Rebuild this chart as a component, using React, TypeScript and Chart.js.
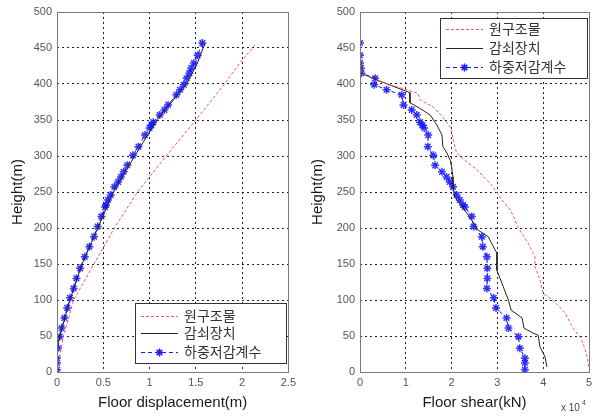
import React, { useEffect, useRef } from "react";
import { Chart, registerables } from "chart.js";

Chart.register(...registerables);

const legendLabels = ["원구조물", "감쇠장치", "하중저감계수"];

// Left: floor displacement (m) vs height (m)
const dispRedH = [0, 50, 100, 150, 200, 250, 300, 350, 400, 430, 457];
const dispRedV = [0, 0.07, 0.18, 0.4, 0.62, 0.87, 1.18, 1.5, 1.81, 1.98, 2.16];
const dispBlackH = [0, 20, 35, 50, 100, 150, 200, 250, 300, 350, 400, 430, 457];
const dispBlackV = [0, 0, 0.005, 0.03, 0.14, 0.27, 0.44, 0.61, 0.84, 1.08, 1.4, 1.52, 1.6];
const floorH = [457, 440, 429, 422, 415, 408, 399, 392, 385, 371, 364, 357, 347, 343, 339, 329, 313, 301, 287, 278, 271, 264, 257, 246, 239, 232, 229, 216, 202, 188, 174, 160, 144, 130, 116, 103, 89, 75, 61, 49, 33, 19, 12.5, 3];
const dispBlueV = [1.57, 1.52, 1.48, 1.45, 1.43, 1.4, 1.37, 1.33, 1.29, 1.2, 1.16, 1.11, 1.04, 1.02, 1.0, 0.95, 0.88, 0.82, 0.76, 0.72, 0.69, 0.66, 0.62, 0.58, 0.55, 0.53, 0.52, 0.48, 0.44, 0.4, 0.35, 0.3, 0.25, 0.21, 0.18, 0.14, 0.11, 0.08, 0.05, 0.03, 0.01, 0, 0, 0];

// Right: floor shear (kN) vs height (m)
const shearRedH = [455, 415, 405, 387, 378, 368, 354, 340, 326, 313, 304, 294, 281, 260, 239, 225, 216, 200, 179, 160, 146, 128, 109, 100, 82, 61, 49, 40, 21, 7];
const shearRedV = [0, 300, 3500, 12700, 13100, 16000, 18100, 19700, 20300, 20700, 21100, 22900, 25500, 28700, 31000, 32800, 33500, 34600, 36700, 38200, 38200, 39300, 40000, 42100, 44800, 46500, 48000, 48700, 49600, 50000];
const shearBlackH = [455, 415, 405, 388, 374, 366, 357, 343, 329, 313, 304, 294, 285, 271, 257, 243, 221, 207, 197, 188, 179, 165, 141, 123, 100, 86, 75, 61, 54, 51, 35, 21, 7];
const shearBlackV = [0, 300, 3900, 10900, 10900, 13100, 15300, 16800, 17900, 18100, 19000, 19700, 20000, 20300, 20300, 20700, 23300, 24800, 25800, 28000, 28700, 29900, 29900, 31000, 32400, 33000, 35400, 35800, 37800, 38900, 39300, 40400, 40800];
const shearBlueV = [0, 0, 0, 200, 300, 3300, 3100, 5800, 9100, 9500, 11300, 12400, 13100, 13600, 14000, 14900, 14800, 16000, 16400, 17900, 18900, 19600, 20300, 21100, 21800, 22500, 22900, 24400, 24800, 26600, 26800, 27700, 27800, 27800, 27700, 29200, 29700, 32000, 32400, 34600, 34900, 36000, 36000, 36000];

const dispTicks = [0, 0.5, 1, 1.5, 2, 2.5];
const shearTicks = [0, 1, 2, 3, 4, 5];

const RED = "#f05a64";
const BLUE = "#1a1aff";
const BLACK = "#222222";

function pts(xs: number[], ys: number[]) {
  return xs.map((x, i) => ({ x, y: ys[i] }));
}

function drawStar(ctx: CanvasRenderingContext2D, x: number, y: number, r: number) {
  ctx.beginPath();
  for (let k = 0; k < 4; k++) {
    const a = (k * Math.PI) / 4;
    ctx.moveTo(x - r * Math.cos(a), y - r * Math.sin(a));
    ctx.lineTo(x + r * Math.cos(a), y + r * Math.sin(a));
  }
  ctx.stroke();
}

const framePlugin = {
  id: "frameLegend",
  afterDatasetsDraw(chart: any, _args: any, opts: any) {
    const ctx = chart.ctx as CanvasRenderingContext2D;
    const a = chart.chartArea;
    ctx.save();
    ctx.strokeStyle = "#7a7a7a";
    ctx.lineWidth = 1;
    ctx.setLineDash([]);
    ctx.strokeRect(Math.round(a.left) + 0.5, Math.round(a.top) + 0.5, Math.round(a.right - a.left), Math.round(a.bottom - a.top));
    const L = opts.box;
    if (L) {
      ctx.fillStyle = "#ffffff";
      ctx.fillRect(L.x, L.y, L.w, L.h);
      ctx.strokeStyle = "#333333";
      ctx.strokeRect(L.x + 0.5, L.y + 0.5, L.w, L.h);
      const ds = chart.data.datasets;
      ctx.font = '14px "Noto Sans CJK KR"';
      ctx.textBaseline = "middle";
      ctx.textAlign = "left";
      for (let i = 0; i < ds.length; i++) {
        const y = L.y + L.rows[i];
        ctx.strokeStyle = ds[i].borderColor;
        ctx.lineWidth = 1;
        ctx.setLineDash(ds[i].borderDash || []);
        ctx.beginPath();
        ctx.moveTo(L.x + 6, y + 0.5);
        ctx.lineTo(L.x + 43, y + 0.5);
        ctx.stroke();
        ctx.setLineDash([]);
        if (ds[i].pointRadius > 0) {
          ctx.strokeStyle = BLUE;
          ctx.lineWidth = 1.5;
          drawStar(ctx, L.x + 24.5, y + 0.5, 4);
        }
        ctx.fillStyle = "#333333";
        ctx.fillText(ds[i].label, L.x + 49, y);
      }
    }
    if (opts.exponent) {
      ctx.fillStyle = "#444444";
      ctx.textBaseline = "alphabetic";
      ctx.textAlign = "left";
      ctx.font = '10px "Liberation Sans", Arial, sans-serif';
      ctx.fillText("x 10", opts.exponent.x, opts.exponent.y);
      ctx.font = '7px "Liberation Sans", Arial, sans-serif';
      ctx.fillText("4", opts.exponent.x + 21, opts.exponent.y - 6);
    }
    ctx.restore();
  },
};

function makeDatasets(red: any[], black: any[], blue: any[]) {
  return [
    { label: legendLabels[0], data: red, showLine: true, borderColor: RED, borderWidth: 1, borderDash: [3, 2], pointRadius: 0, fill: false },
    { label: legendLabels[1], data: black, showLine: true, borderColor: BLACK, borderWidth: 1, pointRadius: 0, fill: false },
    { label: legendLabels[2], data: blue, showLine: true, borderColor: BLUE, borderWidth: 1, borderDash: [4, 3], pointStyle: "star", pointRadius: 4, pointBorderWidth: 1.5, pointBorderColor: "rgba(20,20,255,0.85)", pointBackgroundColor: BLUE, fill: false },
  ];
}

function makeOptions(xMax: number, xStep: number, xTitle: string, xFmt: (v: number) => string, rightPad: number, yWidth: number, plug: any) {
  const tickFont = { family: '"Liberation Sans", Arial, sans-serif', size: 11 };
  const titleFont = { family: '"Liberation Sans", Arial, sans-serif', size: 15 };
  return {
    animation: false,
    responsive: false,
    maintainAspectRatio: false,
    layout: { padding: { top: 12, right: rightPad, bottom: 0, left: 0 } },
    plugins: { legend: { display: false }, tooltip: { enabled: false }, frameLegend: plug },
    scales: {
      x: {
        type: "linear",
        min: 0,
        max: xMax,
        ticks: { stepSize: xStep, color: "#555555", font: tickFont, padding: 4, callback: (v: number) => xFmt(v) },
        grid: { color: "#222222", lineWidth: 1, drawTicks: false },
        border: { display: false, dash: [2, 3] },
        title: { display: true, text: xTitle, color: "#1a1a1a", font: titleFont, padding: { top: 0, bottom: 6 } },
        afterFit: (s: any) => { s.height = 46; },
      },
      y: {
        type: "linear",
        min: 0,
        max: 500,
        ticks: { stepSize: 50, color: "#555555", font: tickFont, padding: 5 },
        grid: { color: "#222222", lineWidth: 1, drawTicks: false },
        border: { display: false, dash: [2, 3] },
        title: { display: true, text: "Height(m)", color: "#1a1a1a", font: titleFont, padding: { top: 9, bottom: 0 } },
        afterFit: (s: any) => { s.width = yWidth; },
      },
    },
  };
}

function ChartCanvas({ cfg, width }: { cfg: () => any; width: number }) {
  const ref = useRef<HTMLCanvasElement | null>(null);
  useEffect(() => {
    if (!ref.current) return;
    const chart = new Chart(ref.current, cfg());
    return () => chart.destroy();
  }, []);
  return <canvas ref={ref} width={width} height={418} style={{ display: "block", width, height: 418 }} />;
}

export default function App() {
  const leftCfg = () => ({
    type: "scatter",
    data: {
      datasets: makeDatasets(pts(dispRedV, dispRedH), pts(dispBlackV, dispBlackH), pts(dispBlueV, floorH)),
    },
    options: makeOptions(
      dispTicks[dispTicks.length - 1], 0.5, "Floor displacement(m)", (v) => String(v), 11, 57,
      { box: { x: 135, y: 303, w: 151, h: 60, rows: [13, 30, 49] } }
    ),
    plugins: [framePlugin],
  });
  const rightCfg = () => ({
    type: "scatter",
    data: {
      datasets: makeDatasets(pts(shearRedV, shearRedH), pts(shearBlackV, shearBlackH), pts(shearBlueV, floorH)),
    },
    options: makeOptions(
      shearTicks[shearTicks.length - 1] * 10000, 10000, "Floor shear(kN)", (v) => String(v / 10000), 16, 60,
      { box: { x: 140, y: 18, w: 147, h: 60, rows: [11, 30, 49] }, exponent: { x: 261, y: 411 } }
    ),
    plugins: [framePlugin],
  });
  return (
    <div style={{ position: "absolute", left: 0, top: 0, width: 605, height: 418, background: "#fff", display: "flex" }}>
      <ChartCanvas cfg={leftCfg} width={300} />
      <ChartCanvas cfg={rightCfg} width={305} />
    </div>
  );
}
